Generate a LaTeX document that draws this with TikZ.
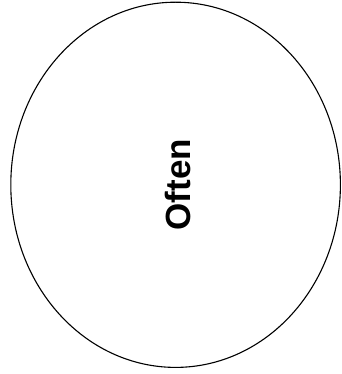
\documentclass[tikz,border=0pt]{standalone}
\usepackage{fontspec}
\setmainfont{Liberation Sans}
\begin{document}
\begin{tikzpicture}[x=1pt,y=-1pt,
  shapeline/.style={draw=black,line width=1.1pt},
  label/.style={font=\fontsize{35}{40}\selectfont\bfseries,rotate=90,inner sep=0pt}]
\useasboundingbox (0,0) rectangle (341,374);
\draw[shapeline] (175.6,184.8) ellipse [x radius=164.8, y radius=182.6];
\node[label] (often) at (177.5,184.8) {Often};
\end{tikzpicture}
\end{document}
